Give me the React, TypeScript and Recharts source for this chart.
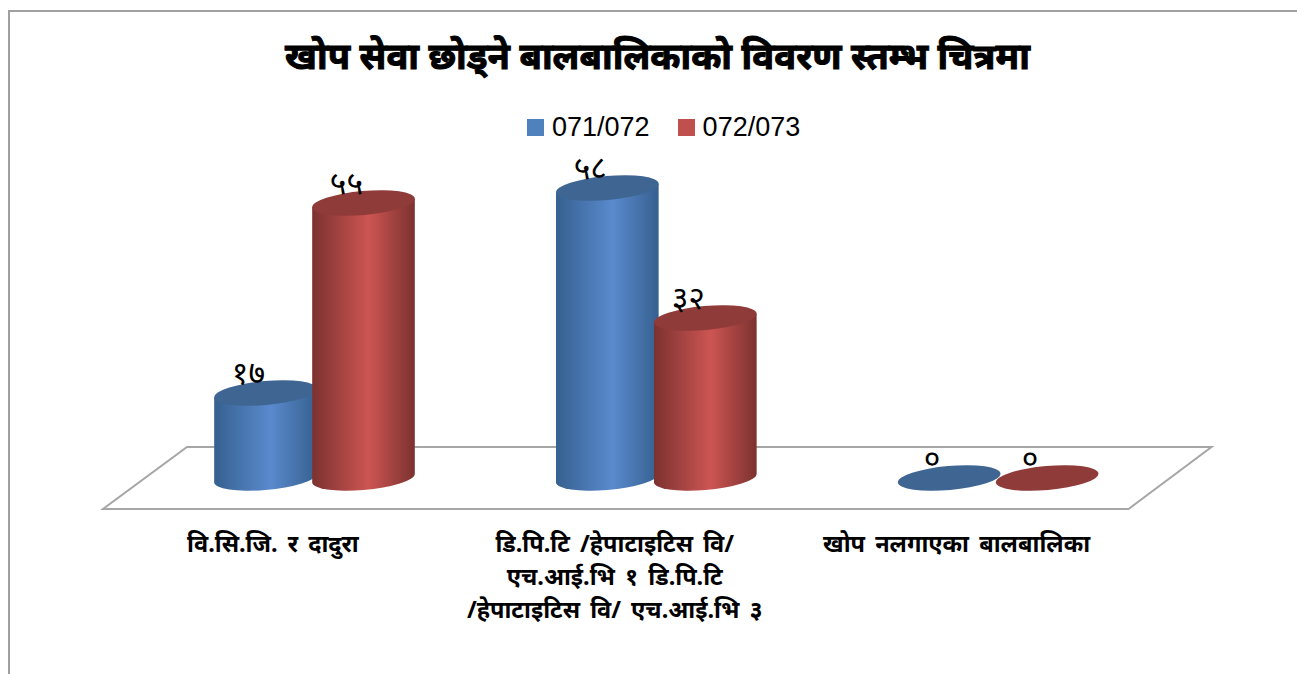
import { BarChart, Bar, XAxis, YAxis, Legend, LabelList, ReferenceArea } from 'recharts'

const TITLE = 'खोप सेवा छोड्ने बालबालिकाको विवरण स्तम्भ चित्रमा'
const CATEGORIES = ['a', 'b', 'c']
const CATEGORY_LINES = [
  ['वि.सि.जि. र दादुरा'],
  ['डि.पि.टि /हेपाटाइटिस वि/', 'एच.आई.भि १ डि.पि.टि', '/हेपाटाइटिस वि/ एच.आई.भि ३'],
  ['खोप नलगाएका बालबालिका'],
]
const SERIES_A = [17, 58, 0]
const SERIES_B = [55, 32, 0]
const LABELS_A = ['१७', '५८', '०']
const LABELS_B = ['५५', '३२', '०']

const chartData = CATEGORIES.map((c, i) => ({ name: c, a: SERIES_A[i], b: SERIES_B[i] }))

const TILT = (-5 * Math.PI) / 180
const RY = 12

// left/right extreme points of the tilted ellipse, relative to its centre
function ellipseEdge(rx: number) {
  const t = Math.atan2(-RY * Math.sin(TILT), rx * Math.cos(TILT))
  return {
    dx: rx * Math.cos(t) * Math.cos(TILT) - RY * Math.sin(t) * Math.sin(TILT),
    dy: rx * Math.cos(t) * Math.sin(TILT) + RY * Math.sin(t) * Math.cos(TILT),
  }
}

function Cylinder(props: any, grad: string, top: string) {
  const { x, y, width, height } = props
  const cx = x + width / 2
  const bottom = y + height
  const rx = width / 2
  const { dx, dy } = ellipseEdge(rx)
  const deg = (TILT * 180) / Math.PI
  const body =
    `M${cx - dx},${y - dy} L${cx - dx},${bottom - dy} ` +
    `A${rx},${RY} ${deg} 0 0 ${cx + dx},${bottom + dy} L${cx + dx},${y + dy} Z`
  return (
    <g>
      {height > 0 && <path d={body} fill={`url(#${grad})`} />}
      <ellipse cx={cx} cy={y} rx={rx} ry={RY} fill={top} transform={`rotate(${deg} ${cx} ${y})`} />
    </g>
  )
}

function Floor(props: any) {
  const { x, y, width, height } = props
  const d =
    `M${x + 43},${y} L${x + width + 42},${y} L${x + width - 41},${y + height} L${x - 41},${y + height} Z`
  return <path d={d} fill="#fff" stroke="#a6a6a6" strokeWidth={2} />
}

function CategoryTick(props: any) {
  const { x, y, index } = props
  return (
    <text x={x - 42} y={y + 68} textAnchor="middle" fontSize={23.5} fontWeight="bold" fill="#000" wordSpacing={4} fontFamily="Noto Sans, Liberation Sans, sans-serif">
      {CATEGORY_LINES[index].map((line, i) => (
        <tspan key={i} x={x - 42} dy={i === 0 ? 0 : 33}>{line}</tspan>
      ))}
    </text>
  )
}

function valueLabel(labels: string[]) {
  return (props: any) => {
    const { x, y, width, index } = props
    return (
      <text x={x + width / 2 - 17} y={y - 9} textAnchor="middle" fontSize={32} fill="#000" fontFamily="Noto Sans, Liberation Sans, sans-serif">
        {labels[index]}
      </text>
    )
  }
}

function LegendRow(props: any) {
  return (
    <div style={{ display: 'flex', fontFamily: 'Liberation Sans', fontSize: 27, lineHeight: '31px', color: '#000' }}>
      {props.payload.map((p: any) => (
        <div key={p.dataKey} style={{ display: 'flex', alignItems: 'center', marginRight: 28 }}>
          <span style={{ width: 17, height: 17, background: p.color, marginRight: 8 }} />
          {p.value}
        </div>
      ))}
    </div>
  )
}

export default function App() {
  return (
    <div style={{ position: 'absolute', left: 0, top: 0, width: 1297, height: 674, overflow: 'hidden', background: '#fff' }}>
      <div style={{ position: 'absolute', left: 8, top: 10, width: 1289, height: 664, boxSizing: 'border-box', borderLeft: '2px solid #a0a0a0', borderTop: '2px solid #a0a0a0' }} />
      <div style={{ position: 'absolute', left: 0, width: 1315, top: 30, textAlign: 'center', fontFamily: 'Noto Sans, Liberation Sans, sans-serif', fontWeight: 'bold', fontSize: 36.4, lineHeight: '50px', color: '#000', WebkitTextStroke: '1px #000' }}>
        {TITLE}
      </div>
      <BarChart
        width={1297}
        height={674}
        data={chartData}
        margin={{ top: 147, right: 127.5, bottom: 0, left: 144 }}
        barSize={103}
        barGap={-5}
        style={{ position: 'absolute', left: 0, top: 0 }}
      >
        <defs>
          <linearGradient id="gradBlue" x1="0" y1="0" x2="1" y2="0">
            <stop offset="0%" stopColor="#35608f" />
            <stop offset="55%" stopColor="#5a8ace" />
            <stop offset="100%" stopColor="#36608f" />
          </linearGradient>
          <linearGradient id="gradRed" x1="0" y1="0" x2="1" y2="0">
            <stop offset="0%" stopColor="#7c3230" />
            <stop offset="55%" stopColor="#cc5552" />
            <stop offset="100%" stopColor="#7c3230" />
          </linearGradient>
        </defs>
        <XAxis dataKey="name" axisLine={false} tickLine={false} height={196} tick={CategoryTick} interval={0} tickMargin={0} />
        <YAxis hide domain={[0, 60]} width={0} />
        <ReferenceArea y1={-6.2} y2={6.2} ifOverflow="visible" shape={Floor} />
        <Legend
          verticalAlign="top"
          content={LegendRow}
          wrapperStyle={{ position: 'absolute', left: 527, top: 112, width: 'auto' }}
        />
        <Bar dataKey="a" name="071/072" fill="#4f81bd" isAnimationActive={false} minPointSize={0}
          shape={(p: any) => Cylinder(p, 'gradBlue', '#3f6693')}>
          <LabelList dataKey="a" content={valueLabel(LABELS_A)} />
        </Bar>
        <Bar dataKey="b" name="072/073" fill="#c0504d" isAnimationActive={false} minPointSize={0}
          shape={(p: any) => Cylinder(p, 'gradRed', '#8f3b39')}>
          <LabelList dataKey="b" content={valueLabel(LABELS_B)} />
        </Bar>
      </BarChart>
    </div>
  )
}
